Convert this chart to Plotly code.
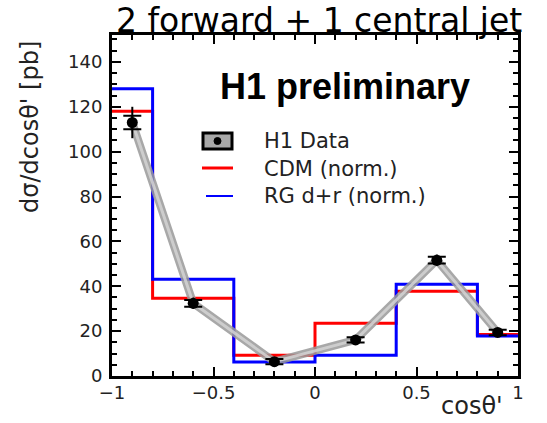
import plotly.graph_objects as go

# ---- data ----
bin_edges = [-1.0, -0.8, -0.4, 0.0, 0.4, 0.8, 1.0]
cdm_norm = [118, 34.7, 9.3, 23.5, 37.8, 18.5]
rg_norm = [128, 43.1, 6.2, 9.3, 40.9, 17.8]
data_x = [-0.9, -0.6, -0.2, 0.2, 0.6, 0.9]
data_y = [113, 32.4, 6.4, 16.1, 51.6, 19.4]
data_stat = [3.0, 1.5, 1.2, 1.2, 1.5, 1.2]
data_tot = [7.0, 2.5, 2.0, 2.0, 2.5, 2.0]

title_text = "2 forward + 1 central jet"
label_text = "H1 preliminary"
legend_labels = ["H1 Data", "CDM (norm.)", "RG d+r (norm.)"]
x_title = "cosθ'"
y_title = "dσ/dcosθ' [pb]"

# plot area in pixels (layout only)
L, R, T, B = 112, 518, 35, 376
W, H = 547, 423


def px(x):
    return (x - L) / (R - L)


def py(y):
    return (B - y) / (B - T)


fig = go.Figure()

fig.add_trace(go.Scatter(
    x=bin_edges, y=cdm_norm + [cdm_norm[-1]], mode="lines",
    line=dict(color="#ff0000", width=3, shape="hv"), showlegend=False,
    hoverinfo="skip"))
fig.add_trace(go.Scatter(
    x=bin_edges, y=rg_norm + [rg_norm[-1]], mode="lines",
    line=dict(color="#0000ff", width=3, shape="hv"), showlegend=False,
    hoverinfo="skip"))

# grey band connecting the data
fig.add_trace(go.Scatter(
    x=data_x, y=data_y, mode="lines", opacity=0.85,
    line=dict(color="#9a9a9a", width=8), showlegend=False, hoverinfo="skip"))
fig.add_trace(go.Scatter(
    x=data_x, y=data_y, mode="lines", opacity=0.85,
    line=dict(color="#d4d4d4", width=3), showlegend=False, hoverinfo="skip"))

# data points with errors
fig.add_trace(go.Scatter(
    x=data_x, y=data_y, mode="markers",
    marker=dict(color="black", size=1),
    error_y=dict(type="data", array=data_tot, color="black", thickness=2, width=0),
    showlegend=False, hoverinfo="skip"))
fig.add_trace(go.Scatter(
    x=data_x, y=data_y, mode="markers",
    marker=dict(color="black", size=11, symbol="circle"),
    error_y=dict(type="data", array=data_stat, color="black", thickness=2, width=9),
    showlegend=False))

axis_common = dict(
    showline=True, linewidth=3, linecolor="black", mirror="allticks",
    ticks="inside", ticklen=9, tickwidth=2, tickcolor="black",
    showgrid=False, zeroline=False,
    tickfont=dict(family="DejaVu Sans", size=18, color="#222"),
)

fig.update_layout(
    width=W, height=H,
    margin=dict(l=L, r=W - R, t=T, b=H - B),
    paper_bgcolor="white", plot_bgcolor="white",
    showlegend=False,
    xaxis=dict(range=[-1, 1], tickmode="linear", tick0=-1, dtick=0.5,
               ticklabelstandoff=-2,
               minor=dict(tickmode="linear", tick0=-1, dtick=0.1, ticks="inside",
                          ticklen=5, tickwidth=2, tickcolor="black"),
               **axis_common),
    yaxis=dict(range=[0, 152], tickmode="linear", tick0=0, dtick=20,
               ticklabelstandoff=3,
               minor=dict(tickmode="linear", tick0=0, dtick=5, ticks="inside",
                          ticklen=5, tickwidth=2, tickcolor="black"),
               **axis_common),
)

ann = []
ann.append(dict(text=title_text, x=px(319), y=py(20), xref="paper", yref="paper",
                xanchor="center", yanchor="middle", showarrow=False,
                font=dict(family="DejaVu Sans", size=33, color="black")))
ann.append(dict(text="<b>" + label_text + "</b>", x=px(345), y=py(86), xref="paper", yref="paper",
                xanchor="center", yanchor="middle", showarrow=False,
                font=dict(family="Liberation Sans", size=36, color="black")))
ann.append(dict(text=y_title, x=px(30), y=py(127), xref="paper", yref="paper",
                xanchor="center", yanchor="middle", showarrow=False, textangle=-90,
                font=dict(family="DejaVu Sans", size=24, color="#222")))
ann.append(dict(text=x_title, x=px(472), y=py(406), xref="paper", yref="paper",
                xanchor="center", yanchor="middle", showarrow=False,
                font=dict(family="DejaVu Sans", size=24, color="#222")))
for lab, yc in zip(legend_labels, [141, 169, 196]):
    ann.append(dict(text=lab, x=px(262), y=py(yc), xref="paper", yref="paper",
                    xanchor="left", yanchor="middle", showarrow=False,
                    font=dict(family="DejaVu Sans", size=21, color="#222")))
fig.update_layout(annotations=ann)

shapes = []
# legend symbol: H1 data box
shapes.append(dict(type="rect", xref="paper", yref="paper",
                   x0=px(203), x1=px(232), y0=py(149), y1=py(133),
                   line=dict(color="black", width=3), fillcolor="#a8a8a8"))
shapes.append(dict(type="circle", xref="paper", yref="paper",
                   x0=px(214), x1=px(221), y0=py(144.5), y1=py(137.5),
                   line=dict(color="black", width=1), fillcolor="black"))
shapes.append(dict(type="line", xref="paper", yref="paper",
                   x0=px(202), x1=px(233), y0=py(168), y1=py(168),
                   line=dict(color="#ff0000", width=3)))
shapes.append(dict(type="line", xref="paper", yref="paper",
                   x0=px(206), x1=px(233), y0=py(196), y1=py(196),
                   line=dict(color="#0000ff", width=2)))
fig.update_layout(shapes=shapes)

fig.write_html("out.html")
